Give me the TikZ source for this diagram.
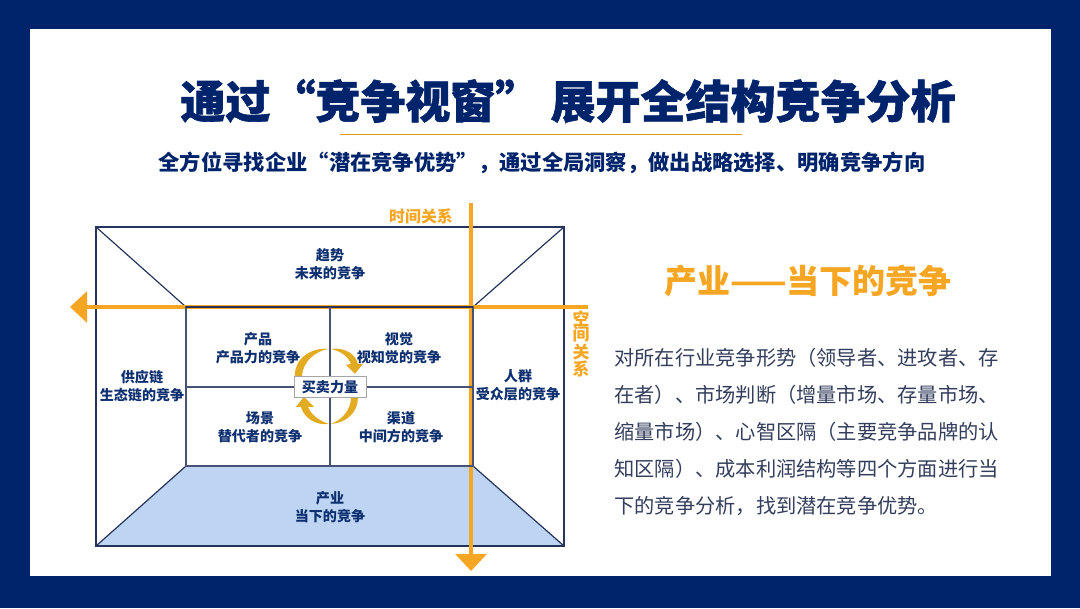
\documentclass[tikz,border=0pt]{standalone}
\usepackage{fontspec}
\setmainfont{Noto Sans CJK SC}
\newfontfamily\heavyfont[BoldFeatures={FakeBold=1.3}]{Noto Sans CJK SC}
\usepackage{tikz}
\usetikzlibrary{arrows.meta,positioning}
\definecolor{framenavy}{RGB}{0,36,107}
\definecolor{wirenavy}{RGB}{38,52,92}
\definecolor{textnavy}{RGB}{14,48,112}
\definecolor{bodyink}{RGB}{52,62,92}
\definecolor{axisorange}{RGB}{246,166,35}
\definecolor{arrowgold}{RGB}{226,172,34}
\definecolor{floorblue}{RGB}{189,212,243}
\tikzset{
  wire/.style={draw=wirenavy, line width=0.85pt},
  innerwire/.style={draw=wirenavy!85, line width=0.85pt},
  axisline/.style={draw=axisorange, line width=2.2pt,
               -{Triangle[length=4.25mm,width=7.75mm]}},
  roomlab/.style={font=\fontsize{10}{12.8}\selectfont\bfseries, text=textnavy,
                  align=center, inner sep=0pt},
  axislab/.style={text=axisorange, align=center, inner sep=0pt},
  turn/.style={fill=arrowgold, draw=none},
}

\begin{document}
\begin{tikzpicture}[x=1cm,y=1cm]
  \path[use as bounding box, fill=framenavy] (0,0) rectangle (27,15.2);
  \fill[white] (0.75,0.8) rectangle (26.275,14.475);

  % Heading block.
  \node[font=\fontsize{32}{34}\selectfont\heavyfont\bfseries, text=framenavy, inner sep=0pt] (TITLE)
    at (14.2,12.675) {通过“竞争视窗” 展开全结构竞争分析};
  \coordinate (RULEL) at (8.5,11.85);
  \coordinate (RULER) at (18.55,11.85);
  \draw[axisorange!80!olive, line width=0.5pt] (RULEL) -- (RULER);
  \node[font=\fontsize{15.15}{17}\selectfont\bfseries, text=framenavy, inner sep=0pt] (SUB)
    at (13.55,11.125) {全方位寻找企业“潜在竞争优势”，通过全局洞察，做出战略选择、明确竞争方向};

  % Room corners.
  \coordinate (OTL) at (2.4,9.525);
  \coordinate (OTR) at (14.1,9.525);
  \coordinate (OBL) at (2.4,1.55);
  \coordinate (OBR) at (14.1,1.55);
  \coordinate (ITL) at (4.65,7.525);
  \coordinate (ITR) at (11.825,7.525);
  \coordinate (IBL) at (4.65,3.55);
  \coordinate (IBR) at (11.825,3.55);
  \coordinate (MIDT) at (8.25,7.525);
  \coordinate (MIDB) at (8.25,3.55);
  \coordinate (MIDL) at (4.65,5.525);
  \coordinate (MIDR) at (11.825,5.525);

  % Floor, then the walls.
  \fill[floorblue] (IBL) -- (IBR) -- (OBR) -- (OBL) -- cycle;
  \draw[wire] (OTL) -- (OTR) -- (OBR) -- (OBL) -- cycle;
  \draw[wire] (OTL) -- (ITL);
  \draw[wire] (OTR) -- (ITR);
  \draw[wire] (OBL) -- (IBL);
  \draw[wire] (OBR) -- (IBR);

  % Axis lines.
  \coordinate (AXR) at (14.7,7.525);
  \coordinate (AXL) at (1.75,7.525);
  \coordinate (AYT) at (11.775,10.125);
  \coordinate (AYB) at (11.775,0.925);
  \draw[axisline] (AXR) -- (AXL);
  \draw[axisline] (AYT) -- (AYB);
  \draw[innerwire] (ITL) rectangle (IBR);
  \draw[wire, line width=1.2pt] (ITL) -- (ITR);
  \draw[innerwire] (MIDT) -- (MIDB);
  \draw[innerwire] (MIDL) -- (MIDR);

  % Turning arrows, in reference pixels.
  \begin{scope}[shift={(0cm,15.2cm)},x=0.025cm,y=-0.025cm]
    \fill[turn] (329,349) .. controls (310,347) and (294,360) .. (295,376) -- (302,376)
      .. controls (303,362) and (315,351) .. (329,349) -- cycle;
    \fill[turn] (331,349) .. controls (344,347) and (356,354) .. (358,364) -- (363,364)
      -- (355,374) -- (346,365) -- (351,364) .. controls (348,356) and (340,351) .. (331,349) -- cycle;
    \fill[turn] (331,424) .. controls (347,423) and (358,412) .. (358,398) -- (351,398)
      .. controls (351,410) and (342,420) .. (331,424) -- cycle;
    \fill[turn] (329,424) .. controls (316,426) and (304,418) .. (301,407) -- (296,407)
      -- (304,397) -- (314,407) -- (308,407) .. controls (312,416) and (320,421) .. (329,424) -- cycle;
  \end{scope}
  \node[draw=black!35, fill=white, line width=0.7pt, minimum width=1.8cm, minimum height=0.53cm,
        inner sep=0pt, font=\fontsize{10}{12}\selectfont\bfseries, text=textnavy] (BUY)
    at (8.25,5.525) {买卖力量};

  % Room labels.
  \node[roomlab] (TREND) at (8.25,8.6) {趋势\\未来的竞争};
  \node[roomlab] (PROD) at (6.45,6.5) {产品\\产品力的竞争};
  \node[roomlab] (VIEW) at (9.975,6.5) {视觉\\视知觉的竞争};
  \node[roomlab] (SCENE) at (6.5,4.525) {场景\\替代者的竞争};
  \node[roomlab] (CHAN) at (10.025,4.525) {渠道\\中间方的竞争};
  \node[roomlab] (SUPPLY) at (3.55,5.55) {供应链\\生态链的竞争};
  \node[roomlab] (CROWD) at (12.95,5.575) {人群\\受众层的竞争};
  \node[roomlab] (INDUSTRY) at (8.25,2.525) {产业\\当下的竞争};
  \node[axislab, font=\fontsize{11.3}{13}\selectfont\bfseries] (TIME) at (10.525,9.8) {时间关系};
  \node[axislab, font=\fontsize{12}{11.2}\selectfont\bfseries] (SPACE) at (14.525,6.6) {空\\间\\关\\系};

  % Right column.
  \node[font=\fontsize{23.5}{26}\selectfont\bfseries, text=axisorange, inner sep=0pt] (HEAD)
    at (20.2,8.175) {产业——当下的竞争};
  \node[anchor=west, align=left, inner sep=0pt, text=bodyink,
        font=\fontsize{14.4}{26.3}\selectfont] (BODY) at (15.35,4.41)
    {对所在行业竞争形势（领导者、进攻者、存\\
     在者）、市场判断（增量市场、存量市场、\\
     缩量市场）、心智区隔（主要竞争品牌的认\\
     知区隔）、成本利润结构等四个方面进行当\\
     下的竞争分析，找到潜在竞争优势。};
\end{tikzpicture}
\end{document}
